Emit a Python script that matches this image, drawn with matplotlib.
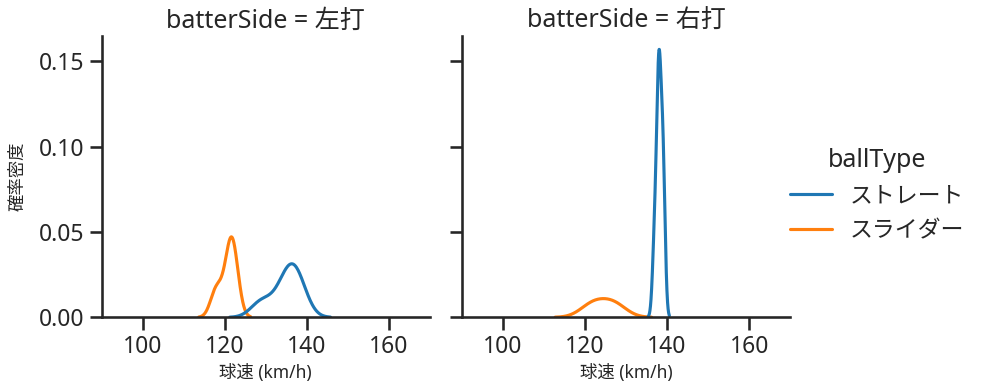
import numpy as np
import pandas as pd
import seaborn as sns
import matplotlib.pyplot as plt

# pitch speeds (km/h) per batter side and pitch type
left_straight = [129, 134, 136, 137, 138]
left_slider = [118, 121, 122, 122]
right_straight = [137, 138, 138, 138, 139, 139]
right_slider = [122, 127]

sides = ['左打', '右打']
ball_types = ['ストレート', 'スライダー']

rows = []
for side, btype, vals in [('左打', 'ストレート', left_straight),
                          ('左打', 'スライダー', left_slider),
                          ('右打', 'ストレート', right_straight),
                          ('右打', 'スライダー', right_slider)]:
    for v in vals:
        rows.append({'batterSide': side, 'ballType': btype, 'speed': v})
df = pd.DataFrame(rows)

sns.set_theme(style='ticks', context='talk', palette='tab10')
plt.rcParams['font.family'] = ['Noto Sans', 'Noto Sans CJK JP', 'DejaVu Sans']
plt.rcParams['legend.handlelength'] = 1.8

g = sns.displot(data=df, x='speed', hue='ballType', col='batterSide',
                kind='kde', col_order=sides, hue_order=ball_types,
                height=4, aspect=1)
g.set(xlim=(90, 170))
g.set_axis_labels('球速 (km/h)', '確率密度', fontsize=12.5)
g.set_titles('batterSide = {col_name}')

fig = g.figure
fig.set_size_inches(9.83, 3.91)
W, H = 983, 391
ax1, ax2 = g.axes.flat
ax1.set_position([101.5 / W, (H - 317.3) / H, 328.5 / W, 281.3 / H])
ax2.set_position([461.7 / W, (H - 317.3) / H, 328.5 / W, 281.3 / H])
ax1.set_xticks([100, 120, 140, 160])
ax1.set_yticks([0, 0.05, 0.10, 0.15])
ax1.yaxis.labelpad = 9

sns.move_legend(g, 'center left', bbox_to_anchor=(0.783, 0.5), frameon=False)

fig.savefig('out.png', dpi=100)
